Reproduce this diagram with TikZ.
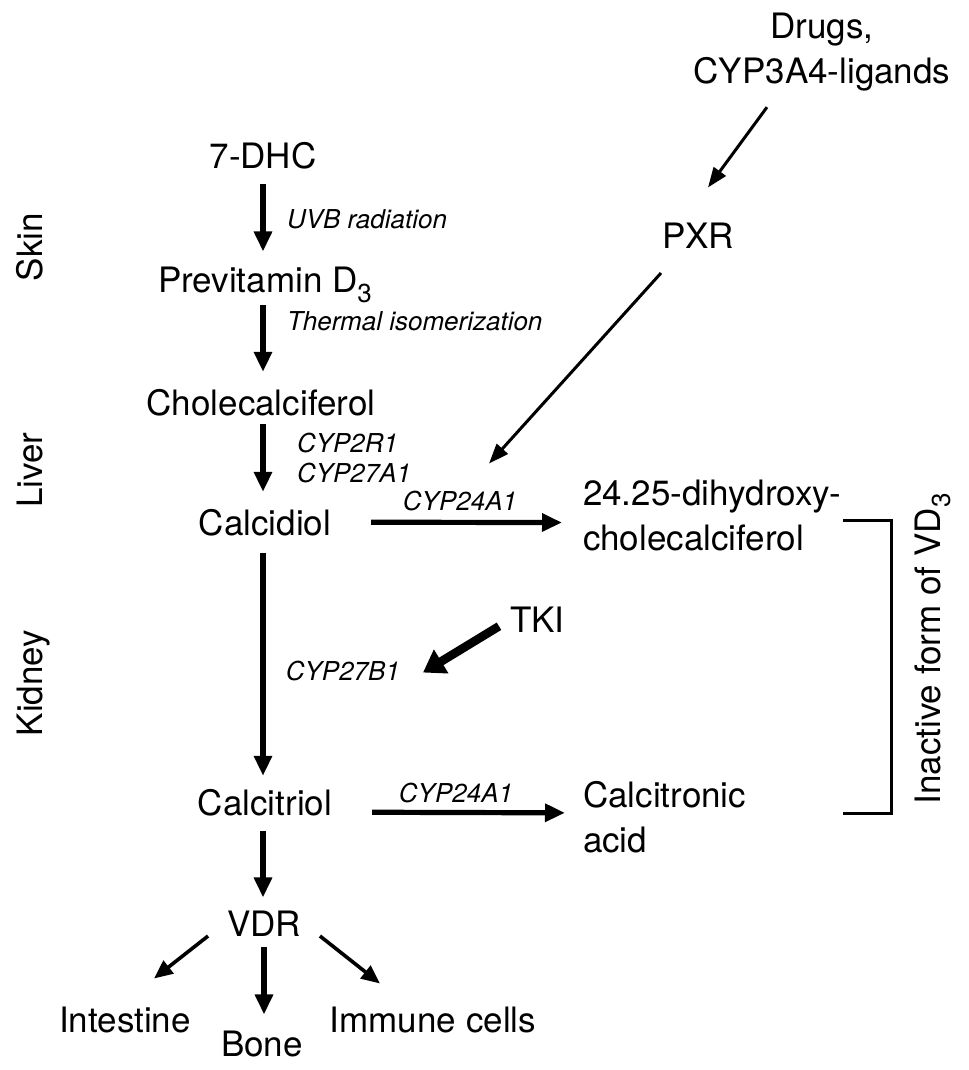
\documentclass[tikz,border=0pt]{standalone}
\usepackage{fontspec}
\setmainfont{TeX Gyre Heros}
\usetikzlibrary{arrows.meta,calc}
\newcommand\subthree{\raisebox{-7.5pt}{\fontsize{19.5pt}{19.5pt}\selectfont 3}}
\begin{document}
\begin{tikzpicture}[x=0.75pt,y=-0.75pt,
  every node/.style={inner sep=0pt, outer sep=0pt},
  lbl/.style={font=\fontsize{26.25pt}{33.75pt}\selectfont},
  enz/.style={font=\fontsize{19.5pt}{24pt}\selectfont\itshape},
  varr/.style={line width=3.8pt, -{Triangle[length=15pt,width=13pt]}},
  harr/.style={line width=3.9pt, -{Triangle[length=15pt,width=13pt]}},
  parr/.style={line width=2.25pt, -{Triangle[length=15pt,width=11pt]}},
  darr/.style={line width=2.7pt, -{Triangle[length=14pt,width=12pt]}},
  tarr/.style={line width=6.5pt, -{Triangle[length=16pt,width=20pt]}},
  brk/.style={line width=2.25pt}
]
\useasboundingbox (0,0) rectangle (969,1070);

% nodes
\node[lbl, anchor=north, align=center] (drugs) at (822,13) {Drugs,\\CYP3A4-ligands};
\node[lbl, anchor=base] (pxr) at (698,248) {PXR};
\node[lbl, anchor=base] (dhc) at (263,168) {7-DHC};
\node[enz, anchor=base west] (uvb) at (287,228) {UVB radiation};
\node[lbl, anchor=base] (prev) at (265,292) {Previtamin D\subthree};
\node[enz, anchor=base west] (therm) at (287,330) {Thermal isomerization};
\node[lbl, anchor=base] (chole) at (261,415) {Cholecalciferol};
\node[enz, anchor=base west] (cypr) at (297,452) {CYP2R1};
\node[enz, anchor=base west] (cypaa) at (297,482) {CYP27A1};
\node[lbl, anchor=base] (cdiol) at (265,535) {Calcidiol};
\node[enz, anchor=base] (cypa) at (460,510) {CYP24A1};
\node[lbl, anchor=north west, align=left] (dihyd) at (583,480) {24.25-dihydroxy-\\cholecalciferol};
\node[lbl, anchor=base west] (tki) at (510,632) {TKI};
\node[enz, anchor=base east] (cypbb) at (400,680) {CYP27B1};
\node[lbl, anchor=base] (ctriol) at (265,815) {Calcitriol};
\node[enz, anchor=base] (cypb) at (456,802) {CYP24A1};
\node[lbl, anchor=north west, align=left] (ctron) at (583,781) {Calcitronic\\acid};
\node[lbl, anchor=base] (vdr) at (264,936) {VDR};
\node[lbl, anchor=base] (intest) at (125,1032) {Intestine};
\node[lbl, anchor=base] (bone) at (262,1056) {Bone};
\node[lbl, anchor=base] (immune) at (433,1032) {Immune cells};
\node[lbl, anchor=base, rotate=90] (skin) at (42,247) {Skin};
\node[lbl, anchor=base, rotate=90] (liver) at (42,470) {Liver};
\node[lbl, anchor=base, rotate=90] (kidney) at (42,683) {Kidney};
\node[lbl, anchor=base, rotate=90] (inact) at (940,649) {Inactive form of VD\subthree};

% main column
\draw[varr] ($(dhc.south)+(0,15)$) -- ($(prev.north)+(-2,-15)$);
\draw[varr] ($(prev.south)+(-2,3)$) -- ($(chole.north)+(2,-17)$);
\draw[varr] ($(chole.south)+(2,8)$) -- ($(cdiol.north)+(-2,-17)$);
\draw[varr] ($(cdiol.south)+(-2,17)$) -- ($(ctriol.north)+(-2,-13)$);
\draw[varr] ($(ctriol.south)+(-2,15)$) -- ($(vdr.north)+(-1,-13)$);
\draw[varr] ($(vdr.south)+(0,11)$) -- ($(bone.north)+(2,-16)$);
\draw[darr] ($(vdr.south west)+(-19,0)$) -- ($(intest.north)+(29,-28)$);
\draw[darr] ($(vdr.south east)+(19,0)$) -- ($(immune.north)+(-53,-23)$);

% horizontal
\draw[harr] ($(cdiol.east)+(40,0)$) -- ($(dihyd.west)+(-21,7)$);
\draw[harr] ($(ctriol.east)+(40,10)$) -- ($(ctron.west)+(-18,-4)$);

% PXR
\draw[parr] ($(drugs.south)+(-55,16)$) -- ($(pxr.north)+(10,-35)$);
\draw[parr] ($(pxr.south)+(-37,25)$) -- ($(cypa.north)+(29,-27)$);

% TKI
\draw[tarr] ($(tki.west)+(-11,7)$) -- ($(cypbb.east)+(23,2)$);

% bracket
\draw[brk] ($(dihyd.east)+(2,5)$) -| ($(dihyd.east |- ctron.east)+(50,-3)$) -- ($(dihyd.east |- ctron.east)+(2,-3)$);
\end{tikzpicture}
\end{document}
